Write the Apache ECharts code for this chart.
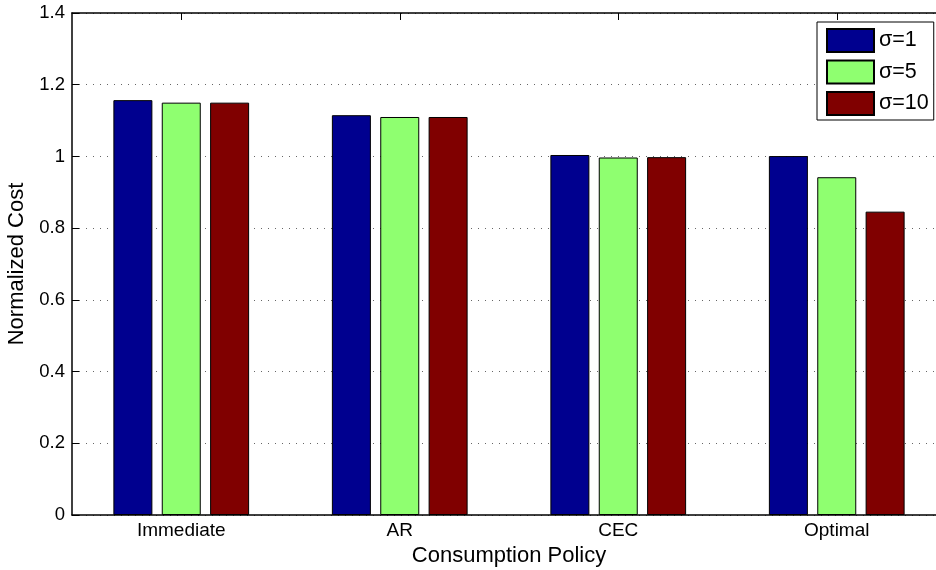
<!DOCTYPE html>
<html>
<head>
<meta charset="utf-8">
<script src="https://cdn.jsdelivr.net/npm/echarts@6/dist/echarts.min.js"></script>
<style>html,body{margin:0;padding:0;background:#fff;}#c{width:936px;height:570px;}</style>
</head>
<body>
<div id="c"></div>
<script>
var categories = ['Immediate', 'AR', 'CEC', 'Optimal'];
var seriesNames = ['σ=1', 'σ=5', 'σ=10'];
var sigma1 = [1.157, 1.115, 1.004, 1.001];
var sigma5 = [1.150, 1.110, 0.997, 0.942];
var sigma10 = [1.150, 1.110, 0.998, 0.846];
var yTicks = [0, 0.2, 0.4, 0.6, 0.8, 1, 1.2, 1.4];
var colors = ['#00008F', '#8FFF70', '#800000'];

var font = "'Liberation Sans', Arial, Helvetica, sans-serif";
var chart = echarts.init(document.getElementById('c'));
var values = [sigma1, sigma5, sigma10];
chart.setOption({
  animation: false,
  backgroundColor: '#fff',
  textStyle: { fontFamily: font, color: '#000' },
  grid: { left: 72, top: 13, bottom: 55, width: 874, show: false, containLabel: false, outerBoundsMode: 'none' },
  legend: {
    orient: 'vertical',
    left: 817,
    top: 22,
    data: seriesNames,
    icon: 'rect',
    itemWidth: 47,
    itemHeight: 23,
    itemGap: 6.5,
    padding: [6, 5, 4, 9],
    borderColor: '#000',
    borderWidth: 1,
    backgroundColor: '#fff',
    textStyle: { fontSize: 21.5, lineHeight: 23, color: '#000', fontFamily: font },
    selectedMode: false
  },
  xAxis: [{
    type: 'category',
    data: categories,
    position: 'bottom',
    name: 'Consumption Policy',
    nameLocation: 'middle',
    nameGap: 27,
    nameTextStyle: { fontSize: 22, color: '#000', fontFamily: font },
    axisLine: { show: true, lineStyle: { color: '#000', width: 1.5 } },
    axisTick: { show: false },
    axisLabel: { fontSize: 19, color: '#000', margin: 6, fontFamily: font },
    splitLine: { show: false }
  }, {
    type: 'category',
    data: categories,
    position: 'top',
    axisLine: { show: true, lineStyle: { color: '#000', width: 1.5 } },
    axisTick: { show: true, inside: true, length: 7, alignWithLabel: true, lineStyle: { color: '#000' } },
    axisLabel: { show: false },
    splitLine: { show: false }
  }],
  yAxis: {
    type: 'value',
    min: 0,
    max: 1.4,
    interval: 0.2,
    name: 'Normalized Cost',
    nameLocation: 'middle',
    nameGap: 42,
    nameRotate: 90,
    nameTextStyle: { fontSize: 22, color: '#000', fontFamily: font },
    axisLine: { show: true, lineStyle: { color: '#000', width: 1.5 } },
    axisTick: { show: true, inside: true, length: 7, lineStyle: { color: '#000' } },
    axisLabel: {
      fontSize: 18.5, color: '#000', margin: 7, fontFamily: font,
      formatter: function (v) {
        var r = Math.round(v * 10) / 10;
        return yTicks.indexOf(r) >= 0 ? String(r) : '';
      }
    },
    splitLine: { show: true, lineStyle: { color: '#666', type: [1, 6], width: 1 } }
  },
  series: seriesNames.map(function (n, i) {
    return {
      name: n,
      type: 'bar',
      xAxisIndex: 0,
      data: values[i],
      barWidth: 39,
      barGap: '24%',
      itemStyle: { color: colors[i], borderColor: '#000', borderWidth: 1 },
      emphasis: { disabled: true }
    };
  })
});
</script>
</body>
</html>
